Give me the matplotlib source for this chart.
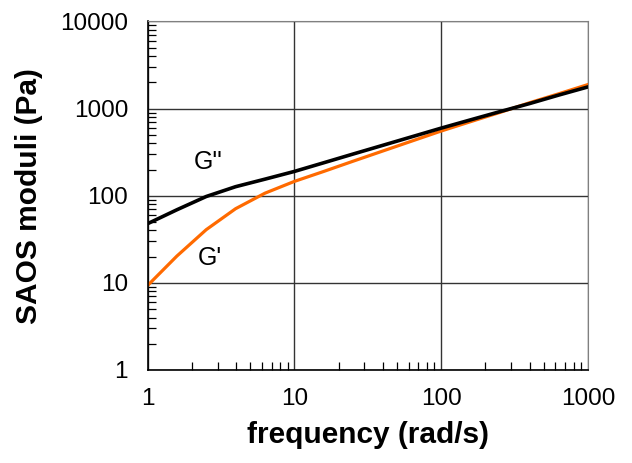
import numpy as np
import matplotlib
matplotlib.use("Agg")
import matplotlib.pyplot as plt
from matplotlib.ticker import LogLocator, FixedLocator, NullFormatter

plt.rcParams["font.family"] = ["Liberation Sans", "DejaVu Sans"]

# frequencies (rad/s), 5 points per decade
freq = [1, 1.585, 2.512, 3.981, 6.31, 10, 15.85, 25.12, 39.81, 63.1,
        100, 158.5, 251.2, 398.1, 631, 1000]
# storage modulus G' (Pa)
g_prime = [9.3, 20.3, 40.8, 71, 107, 146, 190, 249, 325, 424,
           553, 708, 904, 1165, 1479, 1890]
# loss modulus G'' (Pa)
g_double = [47.7, 69, 98, 127, 155, 190, 239, 301, 378, 475,
            597, 743, 923, 1140, 1429, 1775]

xticks = [1, 10, 100, 1000]
yticks = [1, 10, 100, 1000, 10000]

fig = plt.figure(figsize=(6.32, 4.63), dpi=100)
ax = fig.add_axes([0.2334, 0.2009, 0.6970, 0.7527])

ax.plot(freq, g_prime, color="#ff6a00", lw=2.3, solid_joinstyle="miter")
ax.plot(freq, g_double, color="black", lw=2.6, solid_joinstyle="miter")

ax.set_xscale("log")
ax.set_yscale("log")
ax.set_xlim(1, 1000)
ax.set_ylim(1, 10000)

ax.xaxis.set_major_locator(FixedLocator(xticks))
ax.yaxis.set_major_locator(FixedLocator(yticks))
ax.set_xticklabels([str(v) for v in xticks])
ax.set_yticklabels([str(v) for v in yticks])
ax.xaxis.set_minor_locator(LogLocator(base=10, subs=np.arange(2, 10)))
ax.yaxis.set_minor_locator(LogLocator(base=10, subs=np.arange(2, 10)))
ax.xaxis.set_minor_formatter(NullFormatter())
ax.yaxis.set_minor_formatter(NullFormatter())

ax.tick_params(which="both", direction="in", top=False, right=False, labelsize=17.5)
ax.tick_params(which="major", length=0)
ax.tick_params(axis="y", which="major", pad=14)
ax.tick_params(axis="x", which="major", pad=13)
ax.tick_params(which="minor", length=5.5, width=0.9, color="black")

ax.grid(True, which="major", color="#333333", lw=1.0)
for side in ["top", "right"]:
    ax.spines[side].set_color("#808080")
for side in ["left", "bottom"]:
    ax.spines[side].set_color("black")
    ax.spines[side].set_linewidth(1.2)

ax.set_xlabel("frequency (rad/s)", fontsize=21.5, fontweight="bold", labelpad=8)
ax.set_ylabel("SAOS moduli (Pa)", fontsize=21.5, fontweight="bold", labelpad=12)

ax.text(2.58, 246, "G''", fontsize=18, ha="center", va="center")
ax.text(2.66, 19.4, "G'", fontsize=18, ha="center", va="center")

fig.savefig("out.png", dpi=100)
